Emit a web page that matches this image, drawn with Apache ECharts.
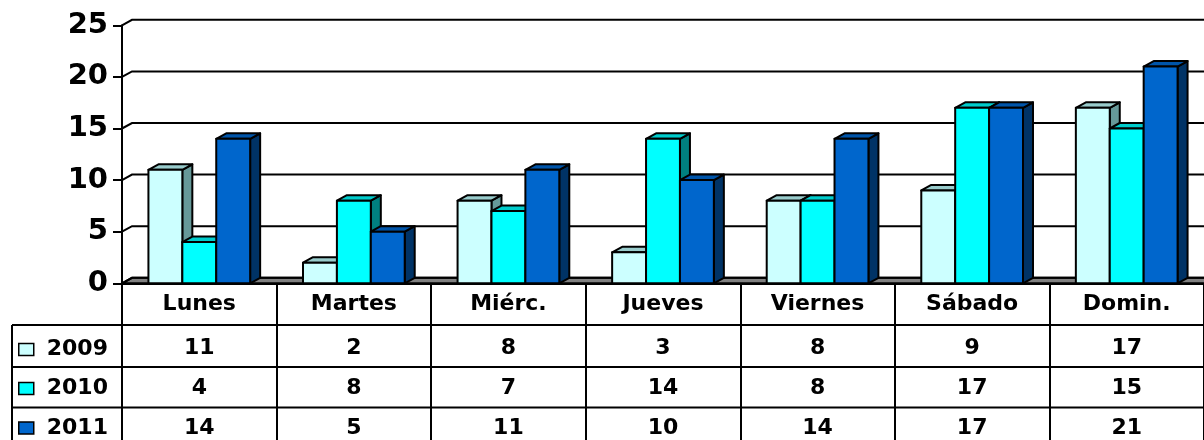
<!DOCTYPE html>
<html>
<head>
<meta charset="utf-8">
<script src="https://cdn.jsdelivr.net/npm/echarts@6/dist/echarts.min.js"></script>
<style>
  body { margin: 0; background: #fff; }
  #chart { width: 1204px; height: 440px; }
</style>
</head>
<body>
<div id="chart"></div>
<script>
  // datos
  const dias = ['Lunes', 'Martes', 'Miérc.', 'Jueves', 'Viernes', 'Sábado', 'Domin.'];
  const anios = ['2009', '2010', '2011'];
  const v2009 = [11, 2, 8, 3, 8, 9, 17];
  const v2010 = [4, 8, 7, 14, 8, 17, 15];
  const v2011 = [14, 5, 11, 10, 14, 17, 21];
  const yTicks = [0, 5, 10, 15, 20, 25];

  const valores = [v2009, v2010, v2011];
  // frente, tapa, lado
  const colores = [
    ['#ccffff', '#99cccc', '#669999'],
    ['#00ffff', '#00cccc', '#008080'],
    ['#0066cc', '#0055aa', '#003366']
  ];
  const DX = 10, DY = -5.5;
  const FONT = 'DejaVu Sans';
  const filaY = [338.5, 377.5, 417];   // centro de cada fila de la tabla - 11

  let myChart = echarts.init(document.getElementById('chart'));

  function barra(k) {
    return function (params, api) {
      let top = api.coord([api.value(0), api.value(1)]);
      let base = api.coord([api.value(0), 0]);
      let band = api.size([1, 0])[0];
      let w = band * 34 / 155;
      let x0 = top[0] - 1.5 * w + k * w;
      let yv = top[1], y0 = base[1];
      let borde = { stroke: '#000', lineWidth: 2, lineJoin: 'round' };
      return {
        type: 'group',
        children: [
          { type: 'polygon', shape: { points: [[x0 + w, yv], [x0 + w + DX, yv + DY], [x0 + w + DX, y0 + DY], [x0 + w, y0]] },
            style: Object.assign({ fill: colores[k][2] }, borde) },
          { type: 'polygon', shape: { points: [[x0, yv], [x0 + DX, yv + DY], [x0 + w + DX, yv + DY], [x0 + w, yv]] },
            style: Object.assign({ fill: colores[k][1] }, borde) },
          { type: 'rect', shape: { x: x0, y: yv, width: w, height: y0 - yv },
            style: Object.assign({ fill: colores[k][0] }, borde) }
        ]
      };
    };
  }

  function marco(params, api) {
    let cs = params.coordSys;
    let y = api.coord([0, api.value(0)])[1];
    let x = cs.x, w = cs.width;
    let hijos = [];
    if (api.value(0) === 0) {
      hijos.push({ type: 'polygon', shape: { points: [[x, y], [x + DX, y + DY], [x + w + DX, y + DY], [x + w, y]] },
        style: { fill: '#808080', stroke: '#000', lineWidth: 2 } });
    }
    hijos.push({ type: 'polyline', shape: { points: [[x, y], [x + DX, y + DY], [x + w + DX, y + DY]] },
      style: { fill: null, stroke: '#000', lineWidth: 2 } });
    return { type: 'group', children: hijos };
  }

  let series = [{
    type: 'custom',
    name: 'marco',
    renderItem: marco,
    data: yTicks.map(v => [v]),
    encode: { y: 0 },
    silent: true,
    z: 1
  }];
  anios.forEach((a, k) => {
    series.push({
      type: 'custom',
      name: a,
      renderItem: barra(k),
      itemStyle: { color: colores[k][0] },
      data: valores[k].map((v, i) => [i, v]),
      encode: { x: 0, y: 1 },
      z: 2 + k
    });
  });

  // una leyenda por fila de la tabla
  let leyendas = anios.map((a, k) => ({
    data: [a],
    left: 18,
    top: filaY[k],
    padding: 0,
    itemWidth: 15,
    itemHeight: 12,
    icon: 'rect',
    itemStyle: { borderColor: '#000', borderWidth: 1.5 },
    textStyle: { fontFamily: FONT, fontWeight: 'bold', fontSize: 22, color: '#000', padding: [0, 0, 0, 8] }
  }));

  let option = {
    animation: false,
    grid: { left: 122, top: 25.3, width: 1085, height: 258 },
    legend: leyendas,
    xAxis: {
      type: 'category',
      data: dias,
      axisLine: { lineStyle: { color: '#000', width: 2 } },
      axisTick: { show: true, length: 160, lineStyle: { color: '#000', width: 2 } },
      axisLabel: {
        margin: -3,
        interval: 0,
        formatter: function (val, i) {
          return '{h|' + val + '}\n{v|' + v2009[i] + '}\n{v|' + v2010[i] + '}\n{v|' + v2011[i] + '}';
        },
        rich: {
          h: { fontFamily: FONT, fontWeight: 'bold', fontSize: 22, color: '#000', lineHeight: 48 },
          v: { fontFamily: FONT, fontWeight: 'bold', fontSize: 22, color: '#000', lineHeight: 40 }
        }
      }
    },
    yAxis: {
      type: 'value',
      min: 0,
      max: 25,
      interval: 5,
      axisLine: { show: true, lineStyle: { color: '#000', width: 2 } },
      axisTick: { show: true, length: 9, lineStyle: { color: '#000', width: 2 } },
      splitLine: { show: false },
      axisLabel: { fontFamily: FONT, fontWeight: 'bold', fontSize: 29, color: '#000', margin: 14 }
    },
    graphic: [
      { type: 'line', shape: { x1: 12, y1: 325, x2: 1204, y2: 325 }, style: { stroke: '#000', lineWidth: 2 } },
      { type: 'line', shape: { x1: 12, y1: 367, x2: 1204, y2: 367 }, style: { stroke: '#000', lineWidth: 2 } },
      { type: 'line', shape: { x1: 12, y1: 407.5, x2: 1204, y2: 407.5 }, style: { stroke: '#000', lineWidth: 2 } },
      { type: 'line', shape: { x1: 12, y1: 325, x2: 12, y2: 440 }, style: { stroke: '#000', lineWidth: 2 } }
    ],
    series: series
  };
  option && myChart.setOption(option);
</script>
</body>
</html>
